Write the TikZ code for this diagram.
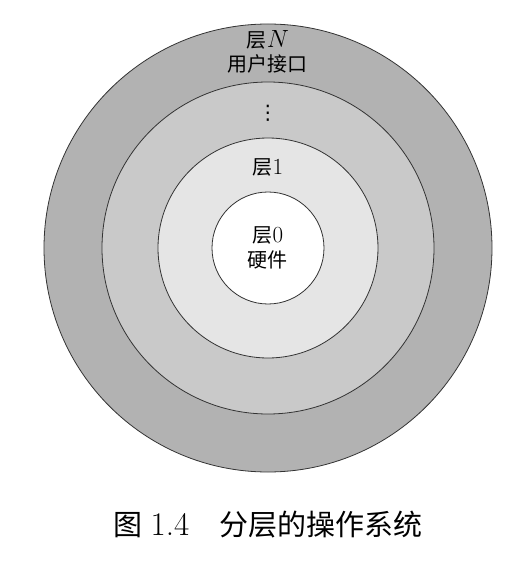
\documentclass[tikz,border=0pt]{standalone}
\usepackage{fontspec}
\usepackage{tikz}
\usetikzlibrary{positioning}
\newfontfamily\cjk{Noto Sans CJK SC}
\newfontfamily\symb{DejaVu Sans}
\newcommand{\bignum}[1]{{\fontsize{23}{24}\selectfont #1}}
\definecolor{ringN}{gray}{0.70}
\definecolor{ringM}{gray}{0.79}
\definecolor{ringA}{gray}{0.90}

\begin{document}
\begin{tikzpicture}[x=1pt,y=1pt,node distance=24pt,ring/.style={circle,draw=black!80,line width=0.8pt,inner sep=0pt},txt/.style={inner sep=0pt,font=\fontsize{20}{24}\selectfont}]
\useasboundingbox[fill=white] (-268,-317) rectangle (256,248);
% the rings, biggest first
\node[ring] (LN) [fill=ringN, minimum size=448pt] at (0,0) {};
\node[ring] (LM) [fill=ringM, minimum size=332pt] at (0,0) {};
\node[ring] (L1) [fill=ringA, minimum size=220pt] at (0,0) {};
\node[ring] (L0) [fill=white, minimum size=112pt] at (0,0) {};
% texts
\node[txt] (tN) at (0,208) {{\cjk 层}\bignum{$N$}};
\node[txt] (tUI) [below of=tN] {\cjk 用户接口};
\node[txt] (tdots) at (0,135) {\symb ⋮};
\node[txt] (t1) at (0,81) {{\cjk 层}\bignum{1}};
\node[txt] (t0) at (0,13) {{\cjk 层}\bignum{0}};
\node[txt] (tHW) [below of=t0, node distance=25pt] {\cjk 硬件};
\node[txt] (cap) at (0,-277) {\fontsize{29}{32}\selectfont{\cjk 图}\hspace{8pt}{\fontsize{33}{34}\selectfont 1.4}\hspace{30pt}{\cjk 分层的操作系统}};
\end{tikzpicture}
\end{document}
